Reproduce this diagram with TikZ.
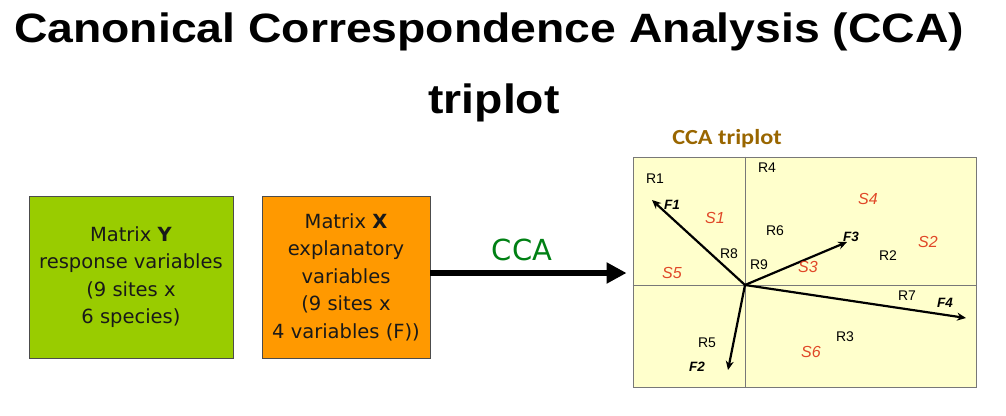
\documentclass[tikz,border=0pt]{standalone}
\usepackage{fontspec}
\setmainfont{Liberation Sans}
\newfontfamily\titlefont{Liberation Sans}[FakeStretch=1.13]
\newfontfamily\boxfont{DejaVu Sans}
\newfontfamily\ccafont{DejaVu Sans}
\newfontfamily\headfont{Carlito}[FakeStretch=1.13]
\usetikzlibrary{arrows.meta}
\definecolor{boxgreen}{RGB}{153,204,0}
\definecolor{boxorange}{RGB}{255,153,0}
\definecolor{plotfill}{RGB}{255,255,204}
\definecolor{axisgray}{RGB}{120,120,120}
\definecolor{ccagreen}{RGB}{0,128,20}
\definecolor{headbrown}{RGB}{153,102,0}
\definecolor{sitered}{RGB}{224,72,40}
\tikzset{
  matbox/.style={draw=black!70, line width=0.8pt, align=center, inner sep=0pt,
    minimum height=162pt, text=black!90, font=\boxfont\fontsize{19.5}{27.5}\selectfont},
  rlab/.style={font=\fontsize{14}{16}\selectfont, inner sep=0pt},
  slab/.style={font=\itshape\fontsize{16}{18}\selectfont, text=sitered, inner sep=0pt},
  flab/.style={font=\bfseries\itshape\fontsize{13.5}{15}\selectfont, inner sep=0pt},
  vec/.style={line width=2.2pt, -{Stealth[length=9pt,width=8pt]}},
  axisline/.style={draw=axisgray, line width=0.9pt},
  titletext/.style={anchor=base, inner sep=0pt, font=\titlefont\bfseries\fontsize{41}{47}\selectfont}
}
\begin{document}
\begin{tikzpicture}[x=1pt,y=-1pt]
\useasboundingbox (0,0) rectangle (1006,415);

% title
\node[titletext] (title1) at (489,42) {Canonical Correspondence Analysis (CCA)};
\node[titletext] (title2) at (494,113) {triplot};

% input matrices
\node[matbox, fill=boxgreen, minimum width=204pt] (ybox) at (131,277)
  {Matrix \textbf{Y}\\response variables\\(9 sites x\\6 species)};
\node[matbox, fill=boxorange, minimum width=168pt] (xbox) at (346,277)
  {Matrix \textbf{X}\\explanatory\\variables\\(9 sites x\\4 variables (F))};

% triplot panel
\node[draw=axisgray, line width=0.9pt, fill=plotfill, minimum width=343pt,
  minimum height=230pt, inner sep=0pt] (plot) at (804.5,272) {};
\node[font=\headfont\bfseries\fontsize{21.5}{24}\selectfont, text=headbrown, inner sep=0pt]
  (head) at (727,139) {CCA triplot};

\coordinate (o) at (745,285);
\draw[axisline] (o |- plot.north) -- (o |- plot.south);
\draw[axisline] (o -| plot.west) -- (o -| plot.east);

% analysis arrow
\draw[line width=6pt, -{Triangle[length=20pt,width=20pt]}, shorten >=6pt]
  ([yshift=4pt]xbox.east) -- ([yshift=4pt]xbox.east -| plot.west);
\node[font=\ccafont\fontsize{29}{32}\selectfont, text=ccagreen, inner sep=0pt]
  (cca) at (522,250) {CCA};

% explanatory vectors
\coordinate (f1) at (652,200);
\coordinate (f2) at (728,370);
\coordinate (f3) at (847,242);
\coordinate (f4) at (966,318);
\draw[vec] (o) -- (f1);
\draw[vec] (o) -- (f2);
\draw[vec] (o) -- (f3);
\draw[vec] (o) -- (f4);

\node[flab] (lf1) at (672,205) {F1};
\node[flab] (lf2) at (697,367) {F2};
\node[flab] (lf3) at (851,237) {F3};
\node[flab] (lf4) at (945,303) {F4};

% sites
\node[rlab] (r1) at (655,179) {R1};
\node[rlab] (r2) at (888,256) {R2};
\node[rlab] (r3) at (845,337) {R3};
\node[rlab] (r4) at (767,168) {R4};
\node[rlab] (r5) at (707,343) {R5};
\node[rlab] (r6) at (775,231) {R6};
\node[rlab] (r7) at (907,296) {R7};
\node[rlab] (r8) at (729,254) {R8};
\node[rlab] (r9) at (759,265) {R9};

% species
\node[slab] (s1) at (715,218) {S1};
\node[slab] (s2) at (928,242) {S2};
\node[slab] (s3) at (808,267) {S3};
\node[slab] (s4) at (868,199) {S4};
\node[slab] (s5) at (672,273) {S5};
\node[slab] (s6) at (811,352) {S6};
\end{tikzpicture}
\end{document}
